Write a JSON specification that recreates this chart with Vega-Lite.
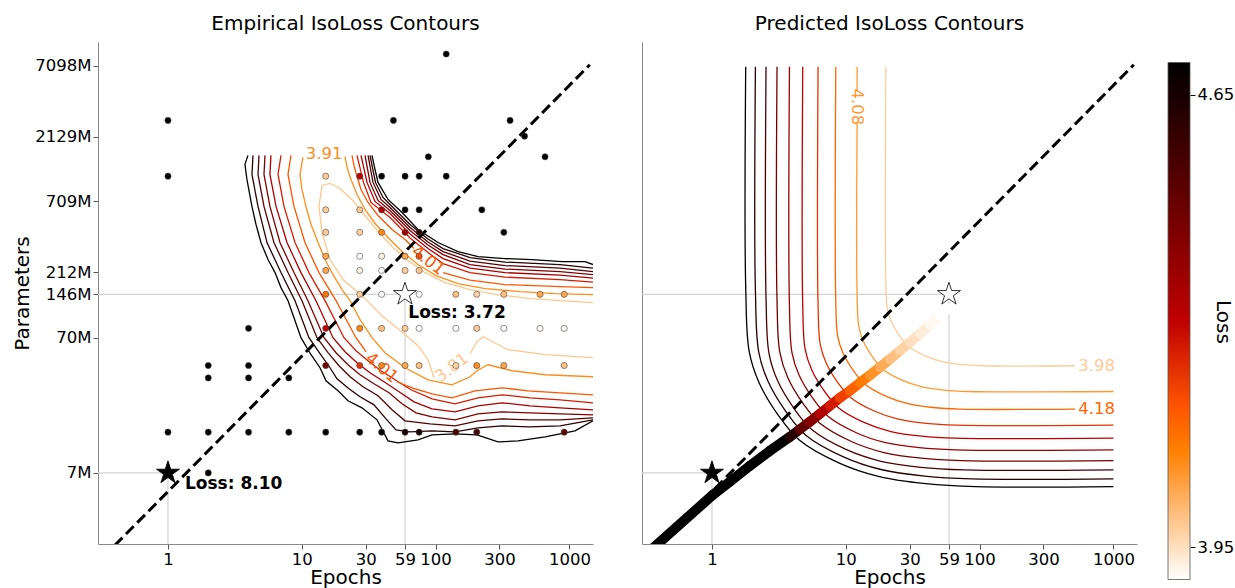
{
"$schema": "https://vega.github.io/schema/vega-lite/v6.json",
"padding": {"left": 12, "top": 14, "right": 0, "bottom": 0},
"config": {
 "font": "DejaVu Sans",
 "view": {"stroke": null},
 "axis": {"labelFontSize": 16.5, "titleFontSize": 20, "titleFontWeight": "normal", "labelColor": "#000", "titleColor": "#000", "tickColor": "#555", "domainColor": "#888", "tickSize": 5, "labelPadding": 2, "grid": false, "labelOverlap": false, "labelFlush": false},
 "title": {"fontSize": 20, "fontWeight": "normal", "color": "#000", "offset": 8}
},
"datasets": {
 "pts": [
  {"epochs":1,"params":2810,"loss":4.9},{"epochs":1,"params":1088,"loss":4.9},{"epochs":120,"params":8690,"loss":4.9},{"epochs":48.4,"params":2810,"loss":4.9},{"epochs":360,"params":2810,"loss":4.9},{"epochs":462,"params":2150,"loss":4.9},{"epochs":88.2,"params":1514,"loss":4.9},{"epochs":657,"params":1514,"loss":4.9},
  {"epochs":15.1,"params":1088,"loss":3.98},{"epochs":27.1,"params":1088,"loss":4.30},{"epochs":39.5,"params":1088,"loss":4.9},{"epochs":59.1,"params":1088,"loss":4.9},{"epochs":75.3,"params":1088,"loss":4.9},{"epochs":120,"params":1088,"loss":4.9},
  {"epochs":15.1,"params":614,"loss":3.98},{"epochs":27.1,"params":614,"loss":3.99},{"epochs":39.5,"params":614,"loss":4.33},{"epochs":59.1,"params":614,"loss":4.9},{"epochs":75.3,"params":614,"loss":4.9},{"epochs":221.5,"params":614,"loss":4.9},
  {"epochs":15.1,"params":419,"loss":3.98},{"epochs":27.1,"params":419,"loss":3.97},{"epochs":39.5,"params":419,"loss":4.09},{"epochs":59.1,"params":419,"loss":4.36},{"epochs":75.3,"params":419,"loss":4.6},{"epochs":323.5,"params":419,"loss":4.9},
  {"epochs":15.1,"params":279,"loss":4.04},{"epochs":27.1,"params":279,"loss":3.88},{"epochs":39.5,"params":279,"loss":3.92},{"epochs":59.1,"params":279,"loss":4.04},{"epochs":75.3,"params":279,"loss":4.18},
  {"epochs":15.1,"params":219,"loss":4.04},{"epochs":27.1,"params":219,"loss":3.92},{"epochs":39.5,"params":219,"loss":3.88},{"epochs":59.1,"params":219,"loss":3.98},{"epochs":75.3,"params":219,"loss":3.99},
  {"epochs":15.1,"params":146,"loss":4.12},{"epochs":27.1,"params":146,"loss":3.98},{"epochs":39.5,"params":146,"loss":3.88},{"epochs":75.3,"params":146,"loss":3.88},{"epochs":141.7,"params":146,"loss":4.0},{"epochs":203,"params":146,"loss":3.97},{"epochs":323.5,"params":146,"loss":4.0},{"epochs":603,"params":146,"loss":4.04},{"epochs":914,"params":146,"loss":4.04},
  {"epochs":4,"params":81.8,"loss":4.9},{"epochs":15.1,"params":81.8,"loss":4.30},{"epochs":27.1,"params":81.8,"loss":4.09},{"epochs":39.5,"params":81.8,"loss":4.0},{"epochs":59.1,"params":81.8,"loss":3.98},{"epochs":75.3,"params":81.8,"loss":3.88},{"epochs":141.7,"params":81.8,"loss":3.88},{"epochs":203,"params":81.8,"loss":3.98},{"epochs":323.5,"params":81.8,"loss":3.9},{"epochs":603,"params":81.8,"loss":3.91},{"epochs":914,"params":81.8,"loss":3.91},
  {"epochs":2,"params":43.5,"loss":4.9},{"epochs":4,"params":43.5,"loss":4.9},{"epochs":15.1,"params":43.5,"loss":4.45},{"epochs":27.1,"params":43.5,"loss":4.22},{"epochs":39.5,"params":43.5,"loss":4.09},{"epochs":59.1,"params":43.5,"loss":4.04},{"epochs":75.3,"params":43.5,"loss":4.0},{"epochs":141.7,"params":43.5,"loss":3.97},{"epochs":203,"params":43.5,"loss":4.08},{"epochs":323.5,"params":43.5,"loss":4.04},{"epochs":914,"params":43.5,"loss":4.0},
  {"epochs":2,"params":35.2,"loss":4.9},{"epochs":4,"params":35.2,"loss":4.9},{"epochs":8,"params":35.2,"loss":4.9},
  {"epochs":1,"params":14,"loss":4.9},{"epochs":2,"params":14,"loss":4.9},{"epochs":4,"params":14,"loss":4.9},{"epochs":8,"params":14,"loss":4.9},{"epochs":15.1,"params":14,"loss":4.9},{"epochs":27.1,"params":14,"loss":4.9},{"epochs":39.5,"params":14,"loss":4.8},{"epochs":59.1,"params":14,"loss":4.65},{"epochs":75.3,"params":14,"loss":4.65},{"epochs":141.7,"params":14,"loss":4.55},{"epochs":203,"params":14,"loss":4.55},{"epochs":914,"params":14,"loss":4.5},
  {"epochs":2,"params":7,"loss":4.9}
 ],
 "stars": [{"epochs":1,"params":7,"loss":8.10},{"epochs":59,"params":146,"loss":3.72}],
 "cross": [{"epochs":0.3,"epochs2":59,"params":146,"params2":146},{"epochs":59,"epochs2":59,"params":2.09,"params2":146},{"epochs":0.3,"epochs2":1,"params":7,"params2":7},{"epochs":1,"epochs2":1,"params":2.09,"params2":7}],
 "diag": [{"epochs":0.4,"params":2.04},{"epochs":1420,"params":7240}],
 "ann": [{"epochs":1.34,"params":5.80,"text":"Loss: 8.10"},{"epochs":62.53,"params":106.4,"text":"Loss: 3.72"}],
 "contL": [
  {"path":"L461","level":4.61,"epochs":3.96,"params":1550},{"path":"L461","level":4.61,"epochs":3.76,"params":1330},{"path":"L461","level":4.61,"epochs":3.89,"params":1030},{"path":"L461","level":4.61,"epochs":4.24,"params":650.2},{"path":"L461","level":4.61,"epochs":4.55,"params":478.5},{"path":"L461","level":4.61,"epochs":4.95,"params":352.1},{"path":"L461","level":4.61,"epochs":5.59,"params":263.6},{"path":"L461","level":4.61,"epochs":6.31,"params":211.2},{"path":"L461","level":4.61,"epochs":6.99,"params":163.6},{"path":"L461","level":4.61,"epochs":7.89,"params":131.0},{"path":"L461","level":4.61,"epochs":8.90,"params":93.25},{"path":"L461","level":4.61,"epochs":9.86,"params":69.80},{"path":"L461","level":4.61,"epochs":11.72,"params":52.25},{"path":"L461","level":4.61,"epochs":13.68,"params":41.87},{"path":"L461","level":4.61,"epochs":15.17,"params":33.55},{"path":"L461","level":4.61,"epochs":18.65,"params":28.29},{"path":"L461","level":4.61,"epochs":22.14,"params":23.86},{"path":"L461","level":4.61,"epochs":28.18,"params":21.18},{"path":"L461","level":4.61,"epochs":36.48,"params":17.27},{"path":"L461","level":4.61,"epochs":44.09,"params":12.07},{"path":"L461","level":4.61,"epochs":52.37,"params":11.67},{"path":"L461","level":4.61,"epochs":73.87,"params":12.28},{"path":"L461","level":4.61,"epochs":93.99,"params":13.37},{"path":"L461","level":4.61,"epochs":139.6,"params":13.60},{"path":"L461","level":4.61,"epochs":203.9,"params":13.37},{"path":"L461","level":4.61,"epochs":292.6,"params":11.87},{"path":"L461","level":4.61,"epochs":412.9,"params":12.07},{"path":"L461","level":4.61,"epochs":657.2,"params":12.92},{"path":"L461","level":4.61,"epochs":1101,"params":14.31},{"path":"L461","level":4.61,"epochs":1500,"params":16.98},
  {"path":"R461","level":4.61,"epochs":33.46,"params":1550},{"path":"R461","level":4.61,"epochs":35.25,"params":1221},{"path":"R461","level":4.61,"epochs":37.12,"params":978.7},{"path":"R461","level":4.61,"epochs":44.09,"params":732.5},{"path":"R461","level":4.61,"epochs":56.10,"params":587.0},{"path":"R461","level":4.61,"epochs":73.87,"params":439.4},{"path":"R461","level":4.61,"epochs":104.2,"params":352.1},{"path":"R461","level":4.61,"epochs":147.0,"params":302.0},{"path":"R461","level":4.61,"epochs":207.4,"params":277.4},{"path":"R461","level":4.61,"epochs":330.1,"params":268.1},{"path":"R461","level":4.61,"epochs":525.4,"params":263.6},{"path":"R461","level":4.61,"epochs":880.4,"params":254.8},{"path":"R461","level":4.61,"epochs":1308,"params":254.8},{"path":"R461","level":4.61,"epochs":1500,"params":242.1},
  {"path":"L451","level":4.51,"epochs":4.317,"params":1550},{"path":"L451","level":4.51,"epochs":4.244,"params":1121},{"path":"L451","level":4.51,"epochs":4.707,"params":650.2},{"path":"L451","level":4.51,"epochs":5.496,"params":352.1},{"path":"L451","level":4.51,"epochs":6.99,"params":211.2},{"path":"L451","level":4.51,"epochs":8.90,"params":131.0},{"path":"L451","level":4.51,"epochs":11.31,"params":69.80},{"path":"L451","level":4.51,"epochs":13.68,"params":53.14},{"path":"L451","level":4.51,"epochs":16.25,"params":41.87},{"path":"L451","level":4.51,"epochs":18.33,"params":34.71},{"path":"L451","level":4.51,"epochs":22.53,"params":29.28},{"path":"L451","level":4.51,"epochs":27.23,"params":25.55},{"path":"L451","level":4.51,"epochs":34.64,"params":22.29},{"path":"L451","level":4.51,"epochs":42.60,"params":17.56},{"path":"L451","level":4.51,"epochs":50.60,"params":14.56},{"path":"L451","level":4.51,"epochs":64.38,"params":14.07},{"path":"L451","level":4.51,"epochs":93.99,"params":14.31},{"path":"L451","level":4.51,"epochs":139.6,"params":14.07},{"path":"L451","level":4.51,"epochs":207.4,"params":15.07},{"path":"L451","level":4.51,"epochs":313.5,"params":15.59},{"path":"L451","level":4.51,"epochs":507.6,"params":15.33},{"path":"L451","level":4.51,"epochs":850.6,"params":15.59},{"path":"L451","level":4.51,"epochs":1500,"params":17.27},
  {"path":"R451","level":4.51,"epochs":32.33,"params":1550},{"path":"R451","level":4.51,"epochs":35.55,"params":978.7},{"path":"R451","level":4.51,"epochs":40.46,"params":757.9},{"path":"R451","level":4.51,"epochs":45.63,"params":672.7},{"path":"R451","level":4.51,"epochs":64.38,"params":478.5},{"path":"R451","level":4.51,"epochs":87.75,"params":373.8},{"path":"R451","level":4.51,"epochs":113.6,"params":317.9},{"path":"R451","level":4.51,"epochs":180.8,"params":272.7},{"path":"R451","level":4.51,"epochs":330.1,"params":252.6},{"path":"R451","level":4.51,"epochs":850.6,"params":242.1},{"path":"R451","level":4.51,"epochs":1500,"params":228.1},
  {"path":"L441","level":4.41,"epochs":4.789,"params":1550},{"path":"L441","level":4.41,"epochs":4.707,"params":1121},{"path":"L441","level":4.41,"epochs":5.217,"params":650.2},{"path":"L441","level":4.41,"epochs":6.192,"params":352.1},{"path":"L441","level":4.41,"epochs":7.887,"params":211.2},{"path":"L441","level":4.41,"epochs":10.03,"params":131.0},{"path":"L441","level":4.41,"epochs":12.99,"params":69.80},{"path":"L441","level":4.41,"epochs":15.70,"params":54.06},{"path":"L441","level":4.41,"epochs":18.97,"params":43.32},{"path":"L441","level":4.41,"epochs":22.93,"params":35.92},{"path":"L441","level":4.41,"epochs":28.67,"params":30.29},{"path":"L441","level":4.41,"epochs":37.12,"params":25.98},{"path":"L441","level":4.41,"epochs":47.23,"params":20.47},{"path":"L441","level":4.41,"epochs":59.07,"params":16.98},{"path":"L441","level":4.41,"epochs":90.81,"params":16.13},{"path":"L441","level":4.41,"epochs":139.6,"params":15.59},{"path":"L441","level":4.41,"epochs":207.4,"params":16.98},{"path":"L441","level":4.41,"epochs":313.5,"params":17.56},{"path":"L441","level":4.41,"epochs":507.6,"params":17.27},{"path":"L441","level":4.41,"epochs":850.6,"params":17.27},{"path":"L441","level":4.41,"epochs":1500,"params":17.86},
  {"path":"R441","level":4.41,"epochs":31.25,"params":1550},{"path":"R441","level":4.41,"epochs":34.04,"params":978.7},{"path":"R441","level":4.41,"epochs":39.09,"params":732.5},{"path":"R441","level":4.41,"epochs":45.63,"params":639.2},{"path":"R441","level":4.41,"epochs":64.38,"params":454.7},{"path":"R441","level":4.41,"epochs":87.75,"params":355.1},{"path":"R441","level":4.41,"epochs":113.6,"params":302.0},{"path":"R441","level":4.41,"epochs":180.8,"params":256.9},{"path":"R441","level":4.41,"epochs":330.1,"params":238.0},{"path":"R441","level":4.41,"epochs":850.6,"params":228.1},{"path":"R441","level":4.41,"epochs":1500,"params":214.9},
  {"path":"L431","level":4.31,"epochs":5.31,"params":1550},{"path":"L431","level":4.31,"epochs":5.217,"params":1121},{"path":"L431","level":4.31,"epochs":5.78,"params":650.2},{"path":"L431","level":4.31,"epochs":6.87,"params":352.1},{"path":"L431","level":4.31,"epochs":8.742,"params":211.2},{"path":"L431","level":4.31,"epochs":11.12,"params":131.0},{"path":"L431","level":4.31,"epochs":14.66,"params":69.80},{"path":"L431","level":4.31,"epochs":18.02,"params":54.06},{"path":"L431","level":4.31,"epochs":22.14,"params":44.06},{"path":"L431","level":4.31,"epochs":27.23,"params":37.16},{"path":"L431","level":4.31,"epochs":34.64,"params":31.88},{"path":"L431","level":4.31,"epochs":44.86,"params":27.35},{"path":"L431","level":4.31,"epochs":56.10,"params":22.67},{"path":"L431","level":4.31,"epochs":71.37,"params":19.45},{"path":"L431","level":4.31,"epochs":93.99,"params":18.17},{"path":"L431","level":4.31,"epochs":139.6,"params":17.27},{"path":"L431","level":4.31,"epochs":207.4,"params":19.12},{"path":"L431","level":4.31,"epochs":313.5,"params":19.79},{"path":"L431","level":4.31,"epochs":507.6,"params":19.45},{"path":"L431","level":4.31,"epochs":850.6,"params":19.12},{"path":"L431","level":4.31,"epochs":1500,"params":18.80},
  {"path":"R431","level":4.31,"epochs":29.68,"params":1550},{"path":"R431","level":4.31,"epochs":32.33,"params":978.7},{"path":"R431","level":4.31,"epochs":37.12,"params":720.1},{"path":"R431","level":4.31,"epochs":45.63,"params":607.3},{"path":"R431","level":4.31,"epochs":64.38,"params":432.0},{"path":"R431","level":4.31,"epochs":87.75,"params":337.4},{"path":"R431","level":4.31,"epochs":113.6,"params":287.0},{"path":"R431","level":4.31,"epochs":180.8,"params":242.1},{"path":"R431","level":4.31,"epochs":330.1,"params":224.2},{"path":"R431","level":4.31,"epochs":850.6,"params":214.9},{"path":"R431","level":4.31,"epochs":1500,"params":204.1},
  {"path":"L421","level":4.21,"epochs":5.881,"params":1550},{"path":"L421","level":4.21,"epochs":5.78,"params":1121},{"path":"L421","level":4.21,"epochs":6.420,"params":650.2},{"path":"L421","level":4.21,"epochs":7.752,"params":352.1},{"path":"L421","level":4.21,"epochs":9.86,"params":211.2},{"path":"L421","level":4.21,"epochs":12.77,"params":131.0},{"path":"L421","level":4.21,"epochs":17.11,"params":69.80},{"path":"L421","level":4.21,"epochs":21.03,"params":54.99},{"path":"L421","level":4.21,"epochs":25.85,"params":45.59},{"path":"L421","level":4.21,"epochs":32.33,"params":38.45},{"path":"L421","level":4.21,"epochs":41.16,"params":32.99},{"path":"L421","level":4.21,"epochs":53.28,"params":27.82},{"path":"L421","level":4.21,"epochs":68.97,"params":23.46},{"path":"L421","level":4.21,"epochs":93.99,"params":20.82},{"path":"L421","level":4.21,"epochs":139.6,"params":19.79},{"path":"L421","level":4.21,"epochs":207.4,"params":21.91},{"path":"L421","level":4.21,"epochs":313.5,"params":23.06},{"path":"L421","level":4.21,"epochs":507.6,"params":21.91},{"path":"L421","level":4.21,"epochs":850.6,"params":21.18},{"path":"L421","level":4.21,"epochs":1500,"params":20.47},
  {"path":"R421","level":4.21,"epochs":27.70,"params":1550},{"path":"R421","level":4.21,"epochs":30.72,"params":978.7},{"path":"R421","level":4.21,"epochs":35.25,"params":708.0},{"path":"R421","level":4.21,"epochs":45.63,"params":577.1},{"path":"R421","level":4.21,"epochs":64.38,"params":407.0},{"path":"R421","level":4.21,"epochs":87.75,"params":317.9},{"path":"R421","level":4.21,"epochs":113.6,"params":268.1},{"path":"R421","level":4.21,"epochs":180.8,"params":228.1},{"path":"R421","level":4.21,"epochs":330.1,"params":211.2},{"path":"R421","level":4.21,"epochs":850.6,"params":202.4},{"path":"R421","level":4.21,"epochs":1500,"params":192.4},
  {"path":"L411","level":4.11,"epochs":6.99,"params":1550},{"path":"L411","level":4.11,"epochs":6.644,"params":1121},{"path":"L411","level":4.11,"epochs":7.360,"params":650.2},{"path":"L411","level":4.11,"epochs":8.90,"params":352.1},{"path":"L411","level":4.11,"epochs":11.31,"params":211.2},{"path":"L411","level":4.11,"epochs":14.91,"params":131.0},{"path":"L411","level":4.11,"epochs":20.68,"params":69.80},{"path":"L411","level":4.11,"epochs":25.41,"params":55.93},{"path":"L411","level":4.11,"epochs":31.25,"params":47.17},{"path":"L411","level":4.11,"epochs":39.09,"params":39.79},{"path":"L411","level":4.11,"epochs":49.73,"params":34.13},{"path":"L411","level":4.11,"epochs":65.50,"params":28.78},{"path":"L411","level":4.11,"epochs":93.99,"params":24.69},{"path":"L411","level":4.11,"epochs":139.6,"params":22.67},{"path":"L411","level":4.11,"epochs":207.4,"params":25.11},{"path":"L411","level":4.11,"epochs":313.5,"params":26.43},{"path":"L411","level":4.11,"epochs":507.6,"params":25.11},{"path":"L411","level":4.11,"epochs":850.6,"params":24.27},{"path":"L411","level":4.11,"epochs":1500,"params":23.06},
  {"path":"R411","level":4.11,"epochs":25.85,"params":1550},{"path":"R411","level":4.11,"epochs":28.92,"params":978.7},{"path":"R411","level":4.11,"epochs":32.89,"params":696.0},{"path":"R411","level":4.11,"epochs":45.63,"params":539.1},{"path":"R411","level":4.11,"epochs":64.38,"params":380.2},{"path":"R411","level":4.11,"epochs":87.75,"params":296.9},{"path":"R411","level":4.11,"epochs":113.6,"params":246.3},{"path":"R411","level":4.11,"epochs":180.8,"params":211.2},{"path":"R411","level":4.11,"epochs":330.1,"params":195.6},{"path":"R411","level":4.11,"epochs":850.6,"params":187.5},{"path":"R411","level":4.11,"epochs":1500,"params":179.7},
  {"path":"L401a","level":4.01,"epochs":8.302,"params":1550},{"path":"L401a","level":4.01,"epochs":7.887,"params":1121},{"path":"L401a","level":4.01,"epochs":8.742,"params":650.2},{"path":"L401a","level":4.01,"epochs":10.56,"params":352.1},{"path":"L401a","level":4.01,"epochs":13.44,"params":211.2},{"path":"L401a","level":4.01,"epochs":18.02,"params":131.0},{"path":"L401a","level":4.01,"epochs":25.41,"params":69.80},{"path":"L401a","level":4.01,"epochs":30.20,"params":54.99},
  {"path":"L401b","level":4.01,"epochs":51.47,"params":32.99},{"path":"L401b","level":4.01,"epochs":66.63,"params":29.78},{"path":"L401b","level":4.01,"epochs":93.99,"params":26.88},{"path":"L401b","level":4.01,"epochs":132.6,"params":25.11},{"path":"L401b","level":4.01,"epochs":197.0,"params":28.29},{"path":"L401b","level":4.01,"epochs":313.5,"params":29.78},{"path":"L401b","level":4.01,"epochs":490.5,"params":28.29},{"path":"L401b","level":4.01,"epochs":850.6,"params":27.35},{"path":"L401b","level":4.01,"epochs":1500,"params":26.43},
  {"path":"R401a","level":4.01,"epochs":23.73,"params":1550},{"path":"R401a","level":4.01,"epochs":24.55,"params":1307},{"path":"R401a","level":4.01,"epochs":25.85,"params":1083},{"path":"R401a","level":4.01,"epochs":27.70,"params":868.5},{"path":"R401a","level":4.01,"epochs":31.25,"params":696.0},{"path":"R401a","level":4.01,"epochs":37.12,"params":557.7},{"path":"R401a","level":4.01,"epochs":47.23,"params":439.4},{"path":"R401a","level":4.01,"epochs":59.07,"params":370.6},{"path":"R401a","level":4.01,"epochs":68.95,"params":317.9},
  {"path":"R401b","level":4.01,"epochs":113.6,"params":211.2},{"path":"R401b","level":4.01,"epochs":180.8,"params":185.9},{"path":"R401b","level":4.01,"epochs":330.1,"params":172.2},{"path":"R401b","level":4.01,"epochs":850.6,"params":166.4},{"path":"R401b","level":4.01,"epochs":1500,"params":163.6},
  {"path":"L391","level":3.91,"epochs":10.20,"params":1498.5},{"path":"L391","level":3.91,"epochs":9.69,"params":1121},{"path":"L391","level":3.91,"epochs":10.03,"params":868.5},{"path":"L391","level":3.91,"epochs":10.74,"params":650.2},{"path":"L391","level":3.91,"epochs":11.72,"params":478.5},{"path":"L391","level":3.91,"epochs":13.22,"params":352.1},{"path":"L391","level":3.91,"epochs":15.17,"params":254.8},{"path":"L391","level":3.91,"epochs":17.11,"params":204.1},{"path":"L391","level":3.91,"epochs":19.98,"params":158.1},{"path":"L391","level":3.91,"epochs":22.93,"params":131.0},{"path":"L391","level":3.91,"epochs":27.23,"params":94.85},{"path":"L391","level":3.91,"epochs":33.46,"params":69.80},{"path":"L391","level":3.91,"epochs":41.87,"params":54.06},{"path":"L391","level":3.91,"epochs":59.07,"params":41.87},{"path":"L391","level":3.91,"epochs":87.75,"params":34.13},{"path":"L391","level":3.91,"epochs":132.6,"params":31.34},{"path":"L391","level":3.91,"epochs":180.8,"params":35.92},{"path":"L391","level":3.91,"epochs":203.9,"params":39.79},{"path":"L391","level":3.91,"epochs":246.4,"params":44.06},{"path":"L391","level":3.91,"epochs":302.9,"params":41.87},{"path":"L391","level":3.91,"epochs":372.4,"params":39.79},{"path":"L391","level":3.91,"epochs":657.2,"params":37.16},{"path":"L391","level":3.91,"epochs":1500,"params":35.92},
  {"path":"R391","level":3.91,"epochs":21.03,"params":1524},{"path":"R391","level":3.91,"epochs":21.77,"params":1264},{"path":"R391","level":3.91,"epochs":23.33,"params":1030},{"path":"R391","level":3.91,"epochs":25.85,"params":797.6},{"path":"R391","level":3.91,"epochs":29.68,"params":617.8},{"path":"R391","level":3.91,"epochs":35.25,"params":486.7},{"path":"R391","level":3.91,"epochs":44.09,"params":383.4},{"path":"R391","level":3.91,"epochs":56.10,"params":302.0},{"path":"R391","level":3.91,"epochs":73.87,"params":242.1},{"path":"R391","level":3.91,"epochs":100.7,"params":200.6},{"path":"R391","level":3.91,"epochs":147.0,"params":175.2},{"path":"R391","level":3.91,"epochs":234.0,"params":160.8},{"path":"R391","level":3.91,"epochs":427.3,"params":152.8},{"path":"R391","level":3.91,"epochs":780.5,"params":147.7},{"path":"R391","level":3.91,"epochs":1500,"params":145.2},
  {"path":"A381","level":3.81,"epochs":1500,"params":126.7},{"path":"A381","level":3.81,"epochs":850.6,"params":131.0},{"path":"A381","level":3.81,"epochs":507.6,"params":135.6},{"path":"A381","level":3.81,"epochs":287.6,"params":145.2},{"path":"A381","level":3.81,"epochs":180.8,"params":158.1},{"path":"A381","level":3.81,"epochs":117.6,"params":178.2},{"path":"A381","level":3.81,"epochs":83.33,"params":211.2},{"path":"A381","level":3.81,"epochs":62.20,"params":259.1},{"path":"A381","level":3.81,"epochs":48.05,"params":323.3},{"path":"A381","level":3.81,"epochs":37.12,"params":424.7},{"path":"A381","level":3.81,"epochs":29.68,"params":557.7},{"path":"A381","level":3.81,"epochs":23.73,"params":732.5},{"path":"A381","level":3.81,"epochs":19.30,"params":883.4},{"path":"A381","level":3.81,"epochs":16.25,"params":962.0},{"path":"A381","level":3.81,"epochs":14.16,"params":929.7},{"path":"A381","level":3.81,"epochs":13.44,"params":650.2},{"path":"A381","level":3.81,"epochs":14.16,"params":417.5},{"path":"A381","level":3.81,"epochs":16.25,"params":263.6},{"path":"A381","level":3.81,"epochs":20.32,"params":187.5},{"path":"A381","level":3.81,"epochs":28.67,"params":140.3},{"path":"A381","level":3.81,"epochs":40.46,"params":99.84},{"path":"A381","level":3.81,"epochs":57.07,"params":76.01},{"path":"A381","level":3.81,"epochs":73.87,"params":60.90},{"path":"A381","level":3.81,"epochs":87.75,"params":47.98},{"path":"A381","level":3.81,"epochs":97.28,"params":35.31},
  {"path":"B381","level":3.81,"epochs":180.8,"params":53.15},{"path":"B381","level":3.81,"epochs":203.9,"params":65.20},{"path":"B381","level":3.81,"epochs":226.1,"params":71.00},{"path":"B381","level":3.81,"epochs":347.6,"params":56.89},{"path":"B381","level":3.81,"epochs":657.2,"params":52.25},{"path":"B381","level":3.81,"epochs":1500,"params":49.65}
 ],
 "labL": [{"id":"a","label":"3.91","level":3.91,"epochs":14.66,"params":1577},{"id":"b","label":"4.01","level":4.01,"epochs":87.75,"params":259.1},{"id":"c","label":"4.01","level":4.01,"epochs":39.56,"params":41.87},{"id":"d","label":"3.81","level":3.81,"epochs":132.6,"params":41.87}],
 "contR": [
  {"path":"r488","level":4.88,"epochs":1.787,"params":7000},{"path":"r488","level":4.88,"epochs":1.787,"params":167.2},{"path":"r488","level":4.88,"epochs":1.897,"params":55.24},{"path":"r488","level":4.88,"epochs":2.254,"params":32.3},{"path":"r488","level":4.88,"epochs":3.181,"params":18.26},{"path":"r488","level":4.88,"epochs":4.489,"params":12.24},{"path":"r488","level":4.88,"epochs":8.942,"params":8.27},{"path":"r488","level":4.88,"epochs":17.81,"params":6.57},{"path":"r488","level":4.88,"epochs":39.67,"params":5.83},{"path":"r488","level":4.88,"epochs":93.83,"params":5.54},{"path":"r488","level":4.88,"epochs":1000,"params":5.54},
  {"path":"r478","level":4.78,"epochs":2.112,"params":7000},{"path":"r478","level":4.78,"epochs":2.112,"params":155.4},{"path":"r478","level":4.78,"epochs":2.235,"params":54.87},{"path":"r478","level":4.78,"epochs":2.628,"params":33.14},{"path":"r478","level":4.78,"epochs":3.633,"params":19.38},{"path":"r478","level":4.78,"epochs":5.021,"params":13.30},{"path":"r478","level":4.78,"epochs":9.594,"params":9.21},{"path":"r478","level":4.78,"epochs":18.34,"params":7.42},{"path":"r478","level":4.78,"epochs":38.92,"params":6.63},{"path":"r478","level":4.78,"epochs":87.43,"params":6.32},{"path":"r478","level":4.78,"epochs":1000,"params":6.32},
  {"path":"r468","level":4.68,"epochs":2.535,"params":7000},{"path":"r468","level":4.68,"epochs":2.535,"params":137.9},{"path":"r468","level":4.68,"epochs":2.669,"params":53.21},{"path":"r468","level":4.68,"epochs":3.095,"params":33.54},{"path":"r468","level":4.68,"epochs":4.162,"params":20.54},{"path":"r468","level":4.68,"epochs":5.596,"params":14.56},{"path":"r468","level":4.68,"epochs":10.12,"params":10.39},{"path":"r468","level":4.68,"epochs":18.31,"params":8.53},{"path":"r468","level":4.68,"epochs":36.45,"params":7.70},{"path":"r468","level":4.68,"epochs":76.42,"params":7.37},{"path":"r468","level":4.68,"epochs":1000,"params":7.37},
  {"path":"r458","level":4.58,"epochs":3.063,"params":7000},{"path":"r458","level":4.58,"epochs":3.063,"params":131.7},{"path":"r458","level":4.58,"epochs":3.215,"params":54.31},{"path":"r458","level":4.58,"epochs":3.689,"params":35.36},{"path":"r458","level":4.58,"epochs":4.861,"params":22.40},{"path":"r458","level":4.58,"epochs":6.403,"params":16.26},{"path":"r458","level":4.58,"epochs":11.11,"params":11.89},{"path":"r458","level":4.58,"epochs":19.28,"params":9.89},{"path":"r458","level":4.58,"epochs":36.58,"params":8.99},{"path":"r458","level":4.58,"epochs":72.85,"params":8.63},{"path":"r458","level":4.58,"epochs":1000,"params":8.63},
  {"path":"r448","level":4.48,"epochs":3.793,"params":7000},{"path":"r448","level":4.48,"epochs":3.793,"params":120.3},{"path":"r448","level":4.48,"epochs":3.960,"params":54.22},{"path":"r448","level":4.48,"epochs":4.482,"params":36.84},{"path":"r448","level":4.48,"epochs":5.743,"params":24.44},{"path":"r448","level":4.48,"epochs":7.359,"params":18.33},{"path":"r448","level":4.48,"epochs":12.08,"params":13.81},{"path":"r448","level":4.48,"epochs":19.85,"params":11.71},{"path":"r448","level":4.48,"epochs":35.34,"params":10.75},{"path":"r448","level":4.48,"epochs":65.69,"params":10.36},{"path":"r448","level":4.48,"epochs":1000,"params":10.36},
  {"path":"r438","level":4.38,"epochs":4.769,"params":7000},{"path":"r438","level":4.38,"epochs":4.769,"params":119.7},{"path":"r438","level":4.38,"epochs":4.962,"params":57.65},{"path":"r438","level":4.38,"epochs":5.559,"params":40.45},{"path":"r438","level":4.38,"epochs":6.978,"params":27.77},{"path":"r438","level":4.38,"epochs":8.758,"params":21.32},{"path":"r438","level":4.38,"epochs":13.80,"params":16.46},{"path":"r438","level":4.38,"epochs":21.75,"params":14.15},{"path":"r438","level":4.38,"epochs":36.90,"params":13.08},{"path":"r438","level":4.38,"epochs":65.13,"params":12.64},{"path":"r438","level":4.38,"epochs":1000,"params":12.64},
  {"path":"r428","level":4.28,"epochs":6.206,"params":7000},{"path":"r428","level":4.28,"epochs":6.206,"params":121.7},{"path":"r428","level":4.28,"epochs":6.435,"params":62.66},{"path":"r428","level":4.28,"epochs":7.136,"params":45.42},{"path":"r428","level":4.28,"epochs":8.773,"params":32.26},{"path":"r428","level":4.28,"epochs":10.79,"params":25.37},{"path":"r428","level":4.28,"epochs":16.31,"params":20.06},{"path":"r428","level":4.28,"epochs":24.66,"params":17.47},{"path":"r428","level":4.28,"epochs":39.86,"params":16.26},{"path":"r428","level":4.28,"epochs":66.83,"params":15.77},{"path":"r428","level":4.28,"epochs":1000,"params":15.77},
  {"path":"r418","level":4.18,"epochs":8.418,"params":7000},{"path":"r418","level":4.18,"epochs":8.418,"params":130.3},{"path":"r418","level":4.18,"epochs":8.698,"params":71.68},{"path":"r418","level":4.18,"epochs":9.546,"params":53.66},{"path":"r418","level":4.18,"epochs":11.50,"params":39.42},{"path":"r418","level":4.18,"epochs":13.85,"params":31.77},{"path":"r418","level":4.18,"epochs":20.09,"params":25.72},{"path":"r418","level":4.18,"epochs":29.14,"params":22.71},{"path":"r418","level":4.18,"epochs":44.89,"params":21.29},{"path":"r418","level":4.18,"epochs":71.46,"params":20.72},{"path":"r418","level":4.18,"epochs":516.2,"params":20.72},
  {"path":"r408a","level":4.08,"epochs":12.15,"params":7000},{"path":"r408a","level":4.08,"epochs":12.15,"params":4629},
  {"path":"r408","level":4.08,"epochs":12.15,"params":2701},{"path":"r408","level":4.08,"epochs":12.15,"params":143.3},{"path":"r408","level":4.08,"epochs":12.51,"params":84.29},{"path":"r408","level":4.08,"epochs":13.59,"params":65.16},{"path":"r408","level":4.08,"epochs":16.03,"params":49.53},{"path":"r408","level":4.08,"epochs":18.91,"params":40.87},{"path":"r408","level":4.08,"epochs":26.33,"params":33.89},{"path":"r408","level":4.08,"epochs":36.64,"params":30.34},{"path":"r408","level":4.08,"epochs":53.79,"params":28.64},{"path":"r408","level":4.08,"epochs":81.33,"params":27.96},{"path":"r408","level":4.08,"epochs":1000,"params":27.96},
  {"path":"r398","level":3.98,"epochs":19.92,"params":7000},{"path":"r398","level":3.98,"epochs":19.92,"params":181.0},{"path":"r398","level":3.98,"epochs":20.44,"params":113.7},{"path":"r398","level":3.98,"epochs":21.97,"params":90.86},{"path":"r398","level":3.98,"epochs":25.39,"params":71.45},{"path":"r398","level":3.98,"epochs":29.35,"params":60.38},{"path":"r398","level":3.98,"epochs":39.19,"params":51.23},{"path":"r398","level":3.98,"epochs":52.34,"params":46.52},{"path":"r398","level":3.98,"epochs":73.20,"params":44.27},{"path":"r398","level":3.98,"epochs":105.1,"params":43.30},{"path":"r398","level":3.98,"epochs":516.2,"params":43.30}
 ],
 "labR": [{"id":"a","label":"4.08","level":4.08,"epochs":12.15,"params":3536},{"id":"b","label":"3.98","level":3.98,"epochs":747.4,"params":43.3},{"id":"b","label":"4.18","level":4.18,"epochs":747.4,"params":20.72}],
 "thick": [
  {"epochs":0.342,"params":1.85,"epochs2":1.012,"params2":4.81,"loss":4.9},{"epochs":1.012,"params":4.81,"epochs2":1.356,"params2":6.01,"loss":4.9},{"epochs":1.356,"params":6.01,"epochs2":1.914,"params2":7.89,"loss":4.85},{"epochs":1.914,"params":7.89,"epochs2":2.702,"params2":10.18,"loss":4.8},{"epochs":2.702,"params":10.18,"epochs2":3.813,"params2":12.92,"loss":4.72},{"epochs":3.813,"params":12.92,"epochs2":4.528,"params2":14.68,"loss":4.62},{"epochs":4.528,"params":14.68,"epochs2":5.379,"params2":16.69,"loss":4.5},{"epochs":5.379,"params":16.69,"epochs2":6.391,"params2":19.12,"loss":4.42},{"epochs":6.391,"params":19.12,"epochs2":7.592,"params2":21.91,"loss":4.33},{"epochs":7.592,"params":21.91,"epochs2":9.018,"params2":25.10,"loss":4.26},{"epochs":9.018,"params":25.10,"epochs2":10.71,"params2":28.30,"loss":4.2},{"epochs":10.71,"params":28.30,"epochs2":12.72,"params2":32.42,"loss":4.15},{"epochs":12.72,"params":32.42,"epochs2":15.12,"params2":36.84,"loss":4.11},{"epochs":15.12,"params":36.84,"epochs2":17.96,"params2":42.21,"loss":4.07},{"epochs":17.96,"params":42.21,"epochs2":21.34,"params2":48.38,"loss":4.03},{"epochs":21.34,"params":48.38,"epochs2":25.34,"params2":55.91,"loss":4.0},{"epochs":25.34,"params":55.91,"epochs2":30.11,"params2":64.61,"loss":3.97},{"epochs":30.11,"params":64.61,"epochs2":35.77,"params2":74.70,"loss":3.95},{"epochs":35.77,"params":74.70,"epochs2":42.49,"params2":87.06,"loss":3.93},{"epochs":42.49,"params":87.06,"epochs2":50.48,"params2":101.5,"loss":3.91},{"epochs":50.48,"params":101.5,"epochs2":57.93,"params2":114.3,"loss":3.9}
 ],
 "cbar": [{"a":0,"b":1,"lo":3.90,"hi":4.70}]
},
"spacing": 30,
"resolve": {"scale": {"x": "independent", "y": "independent", "stroke": "independent", "color": "independent"}},
"hconcat": [
 {
  "width": 495, "height": 502,
  "title": "Empirical IsoLoss Contours",
  "encoding": {
   "x": {"field": "epochs", "type": "quantitative", "scale": {"type": "log", "domain": [0.3, 1500], "nice": false}, "axis": {"title": "Epochs", "values": [1,10,30,59,100,300,1000], "labelExpr": "format(datum.value, 'd')", "titlePadding": 0}},
   "y": {"field": "params", "type": "quantitative", "scale": {"type": "log", "domain": [2.09, 10660], "nice": false}, "axis": {"title": "Parameters", "values": [7,70,146,212,709,2129,7098], "labelExpr": "format(datum.value, 'd') + 'M'", "titlePadding": 2}}
  },
  "layer": [
   {"data": {"name": "cross"}, "mark": {"type": "rule", "color": "#d3d3d3", "strokeWidth": 1.2}, "encoding": {"x2": {"field": "epochs2"}, "y2": {"field": "params2"}}},
   {"data": {"name": "contL"}, "mark": {"type": "line", "strokeWidth": 1.3, "clip": true}, "encoding": {"detail": {"field": "path"}, "order": {"value": null}, "stroke": {"field": "level", "type": "quantitative", "scale": {"type": "linear", "domain": [3.71, 3.935, 4.01, 4.16, 4.61], "range": ["#ffffff", "#ff8000", "#ff5500", "#bf0000", "#000000"], "interpolate": "rgb", "clamp": true}, "legend": null}}},
   {"data": {"name": "labL"}, "transform": [{"filter": "datum.id == 'a'"}], "mark": {"type": "text", "fontSize": 16.5, "angle": 0}, "encoding": {"text": {"field": "label"}, "color": {"field": "level", "type": "quantitative", "scale": {"type": "linear", "domain": [3.71, 3.935, 4.01, 4.16, 4.61], "range": ["#ffffff", "#ff8000", "#ff5500", "#bf0000", "#000000"], "interpolate": "rgb", "clamp": true}, "legend": null}}},
   {"data": {"name": "labL"}, "transform": [{"filter": "datum.id == 'b'"}], "mark": {"type": "text", "fontSize": 16.5, "angle": 38}, "encoding": {"text": {"field": "label"}, "color": {"field": "level", "type": "quantitative", "legend": null}}},
   {"data": {"name": "labL"}, "transform": [{"filter": "datum.id == 'c'"}], "mark": {"type": "text", "fontSize": 16.5, "angle": 40}, "encoding": {"text": {"field": "label"}, "color": {"field": "level", "type": "quantitative", "legend": null}}},
   {"data": {"name": "labL"}, "transform": [{"filter": "datum.id == 'd'"}], "mark": {"type": "text", "fontSize": 16.5, "angle": -37}, "encoding": {"text": {"field": "label"}, "color": {"field": "level", "type": "quantitative", "legend": null}}},
   {"data": {"name": "diag"}, "mark": {"type": "line", "color": "#000", "strokeWidth": 3, "strokeDash": [11, 5], "clip": true}, "encoding": {}},
   {"data": {"name": "pts"}, "mark": {"type": "point", "shape": "circle", "filled": true, "size": 38, "stroke": "#444", "strokeWidth": 0.6, "opacity": 1}, "encoding": {"fill": {"field": "loss", "type": "quantitative", "scale": {"type": "linear", "domain": [3.90, 4.10, 4.1667, 4.30, 4.70], "range": ["#ffffff", "#ff8000", "#ff5500", "#bf0000", "#000000"], "interpolate": "rgb", "clamp": true}, "legend": null}}},
   {"data": {"name": "stars"}, "mark": {"type": "point", "shape": "M0,-1L0.2245,-0.309L0.951,-0.309L0.3633,0.118L0.5878,0.809L0,0.382L-0.5878,0.809L-0.3633,0.118L-0.951,-0.309L-0.2245,-0.309Z", "filled": true, "size": 585, "stroke": "#000", "strokeWidth": 0.8, "opacity": 1}, "encoding": {"fill": {"field": "loss", "type": "quantitative", "legend": null}}},
   {"data": {"name": "ann"}, "mark": {"type": "text", "fontSize": 17, "fontWeight": "bold", "align": "left", "baseline": "middle", "color": "#000"}, "encoding": {"text": {"field": "text"}}}
  ]
 },
 {
  "width": 495, "height": 502,
  "title": "Predicted IsoLoss Contours",
  "encoding": {
   "x": {"field": "epochs", "type": "quantitative", "scale": {"type": "log", "domain": [0.3, 1500], "nice": false}, "axis": {"title": "Epochs", "values": [1,10,30,59,100,300,1000], "labelExpr": "format(datum.value, 'd')", "titlePadding": 0}},
   "y": {"field": "params", "type": "quantitative", "scale": {"type": "log", "domain": [2.09, 10660], "nice": false}, "axis": {"title": null, "labels": false, "ticks": false, "minExtent": 19, "maxExtent": 19}}
  },
  "layer": [
   {"data": {"name": "cross"}, "mark": {"type": "rule", "color": "#d3d3d3", "strokeWidth": 1.2}, "encoding": {"x2": {"field": "epochs2"}, "y2": {"field": "params2"}}},
   {"data": {"name": "contR"}, "mark": {"type": "line", "strokeWidth": 1.3, "clip": true, "interpolate": "catmull-rom"}, "encoding": {"detail": {"field": "path"}, "order": {"value": null}, "color": {"field": "level", "type": "quantitative", "scale": {"type": "linear", "domain": [3.88, 4.13, 4.2133, 4.38, 4.88], "range": ["#ffffff", "#ff8000", "#ff5500", "#bf0000", "#000000"], "interpolate": "rgb", "clamp": true}, "legend": null}}},
   {"data": {"name": "labR"}, "transform": [{"filter": "datum.id == 'a'"}], "mark": {"type": "text", "fontSize": 16.5, "angle": 90}, "encoding": {"text": {"field": "label"}, "color": {"field": "level", "type": "quantitative", "legend": null}}},
   {"data": {"name": "labR"}, "transform": [{"filter": "datum.id == 'b'"}], "mark": {"type": "text", "fontSize": 16.5, "angle": 0}, "encoding": {"text": {"field": "label"}, "color": {"field": "level", "type": "quantitative", "legend": null}}},
   {"data": {"name": "thick"}, "mark": {"type": "rule", "strokeWidth": 10, "strokeCap": "round", "clip": true}, "encoding": {"x2": {"field": "epochs2"}, "y2": {"field": "params2"}, "stroke": {"field": "loss", "type": "quantitative", "scale": {"type": "linear", "domain": [3.90, 4.10, 4.1667, 4.30, 4.70], "range": ["#ffffff", "#ff8000", "#ff5500", "#bf0000", "#000000"], "interpolate": "rgb", "clamp": true}, "legend": null}}},
   {"data": {"name": "diag"}, "mark": {"type": "line", "color": "#000", "strokeWidth": 3, "strokeDash": [11, 5], "clip": true}, "encoding": {}},
   {"data": {"name": "stars"}, "mark": {"type": "point", "shape": "M0,-1L0.2245,-0.309L0.951,-0.309L0.3633,0.118L0.5878,0.809L0,0.382L-0.5878,0.809L-0.3633,0.118L-0.951,-0.309L-0.2245,-0.309Z", "filled": true, "size": 585, "stroke": "#000", "strokeWidth": 0.8, "opacity": 1}, "encoding": {"fill": {"field": "loss", "type": "quantitative", "scale": {"type": "linear", "domain": [3.90, 4.10, 4.1667, 4.30, 4.70], "range": ["#ffffff", "#ff8000", "#ff5500", "#bf0000", "#000000"], "interpolate": "rgb", "clamp": true}, "legend": null}}}
  ]
 },
 {
  "width": 22, "height": 537.5,
  "data": {"name": "cbar"},
  "mark": {"type": "rect", "fill": {"gradient": "linear", "x1": 0, "y1": 1, "x2": 0, "y2": 0, "stops": [{"offset": 0, "color": "#ffffff"}, {"offset": 0.25, "color": "#ff8000"}, {"offset": 0.3333, "color": "#ff5500"}, {"offset": 0.5, "color": "#bf0000"}, {"offset": 1, "color": "#000000"}]}, "stroke": "#555", "strokeWidth": 0.8},
  "encoding": {
   "x": {"field": "a", "type": "quantitative", "scale": {"domain": [0, 1]}, "axis": null},
   "x2": {"field": "b"},
   "y": {"field": "lo", "type": "quantitative", "scale": {"domain": [3.90, 4.7317], "zero": false, "nice": false}, "axis": {"orient": "right", "values": [3.95, 4.65], "format": ".2f", "domain": false, "tickColor": "#000", "title": "Loss", "titleAngle": 90, "titleX": 32, "titleY": 279.5, "titleAlign": "center", "titleBaseline": "middle"}},
   "y2": {"field": "hi"}
  }
 }
]
}
